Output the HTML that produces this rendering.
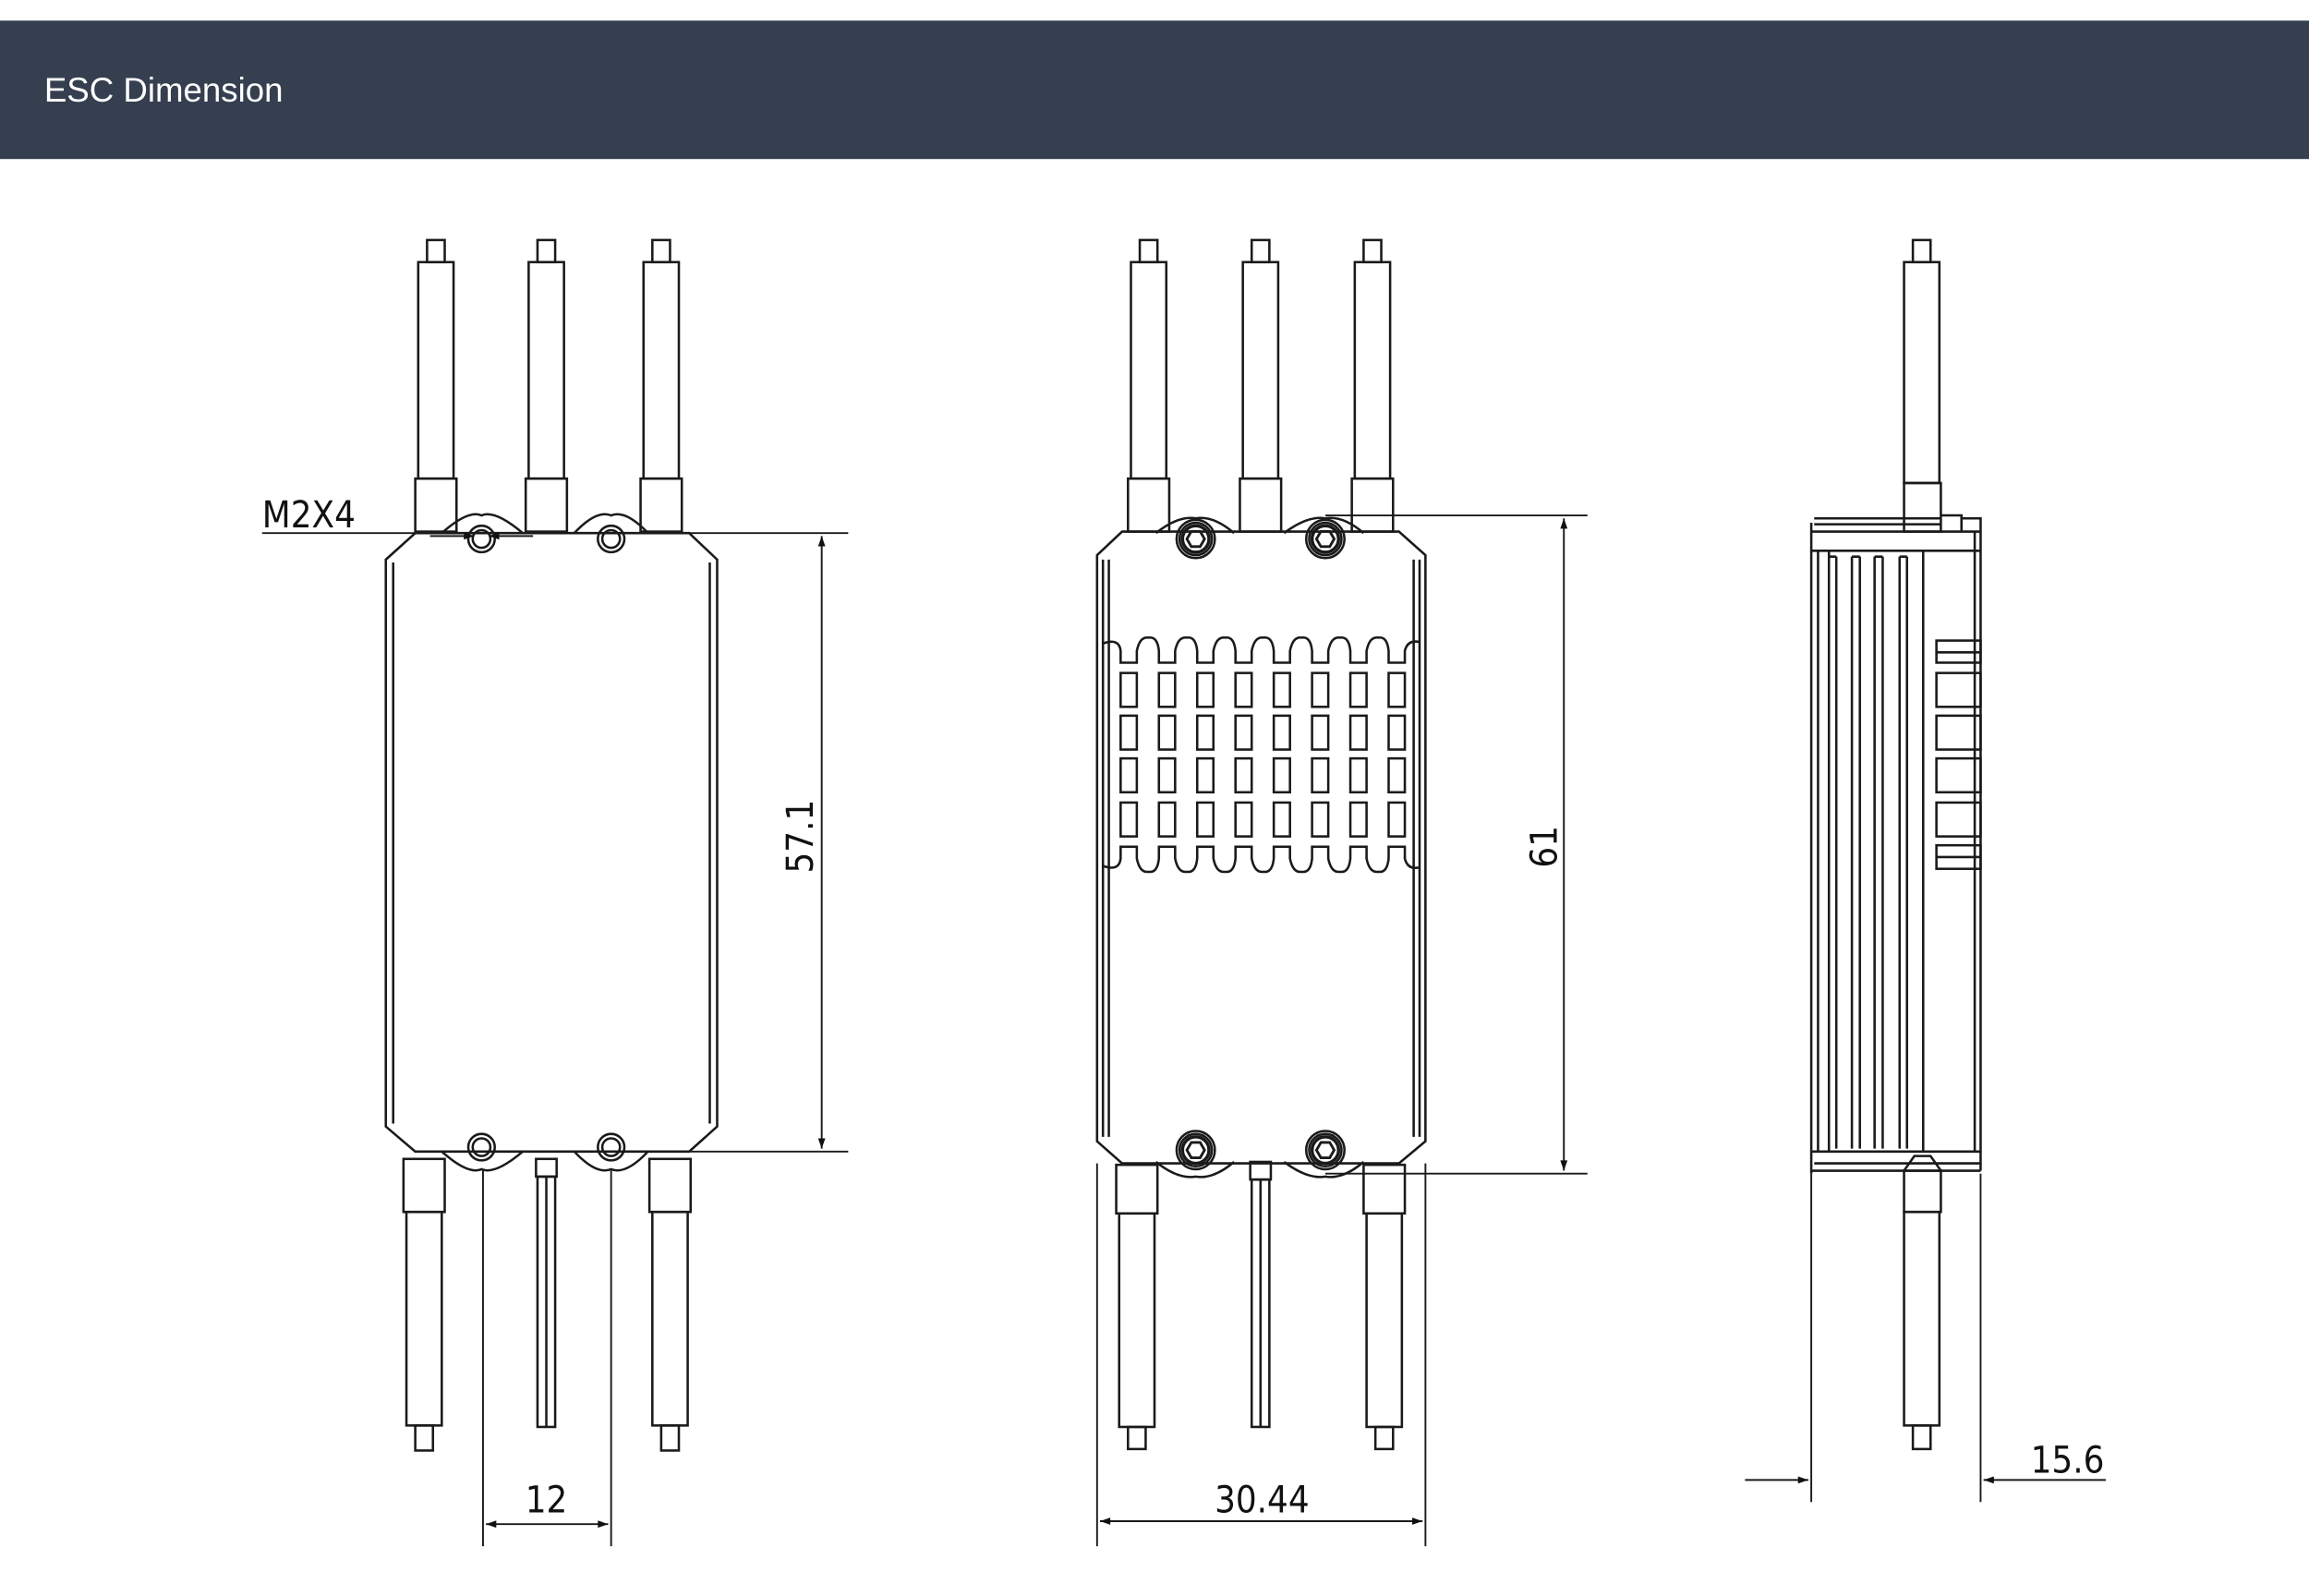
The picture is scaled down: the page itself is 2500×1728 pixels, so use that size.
<!DOCTYPE html>
<html><head><meta charset="utf-8"><style>
html,body{margin:0;padding:0;background:#fff;}
svg{display:block;}
</style></head><body>
<svg width="2500" height="1728" viewBox="0 0 1568 1083.8" xmlns="http://www.w3.org/2000/svg">
<defs>
<marker id="a" viewBox="0 0 10 10" refX="10" refY="5" markerWidth="20" markerHeight="7" markerUnits="userSpaceOnUse" orient="auto-start-reverse"><path d="M0,1.5 L10,5 L0,8.5 z" fill="#111"/></marker>
<g id="wire">
<rect x="-6" y="0" width="12" height="15" fill="none"/>
<rect x="-12" y="15" width="24" height="147" fill="none"/>
<rect x="-14" y="162" width="28" height="36" fill="none"/>
</g>
<g id="vent"><rect x="0" y="0" width="11" height="23" fill="none"/></g>
<g id="hex">
<circle r="13" fill="none"/><circle r="11" fill="none"/><circle r="9" fill="none" stroke-width="2.2"/>
<polygon points="6,0 3,5.2 -3,5.2 -6,0 -3,-5.2 3,-5.2" fill="none" stroke-width="1.8"/>
</g>
</defs>
<rect x="0" y="14" width="1568" height="94" fill="#353f4f"/>
<text x="30" y="69" font-family="'Liberation Sans',sans-serif" font-size="23" fill="#fff">ESC Dimension</text>

<g stroke="#1a1a1a" stroke-width="1.6" fill="none">
<!-- LEFT VIEW -->
<use href="#wire" x="296" y="163"/><use href="#wire" x="371" y="163"/><use href="#wire" x="449" y="163"/>
<path d="M282,362 L468,362 L487,380 L487,765 L468,782 L282,782 L262,765 L262,380 Z"/>
<path d="M267,382 L267,763 M482,382 L482,763"/>
<path d="M300,362 Q318,346 327,350 Q336,346 355,362 M390,362 Q405,346 415,350 Q425,346 440,362"/>
<circle cx="327" cy="366" r="6"/><circle cx="327" cy="366" r="9"/>
<circle cx="415" cy="366" r="6"/><circle cx="415" cy="366" r="9"/>
<path d="M300,782 Q318,798 327,794 Q336,798 355,782 M390,782 Q405,798 415,794 Q425,798 440,782"/>
<circle cx="327" cy="779" r="6"/><circle cx="327" cy="779" r="9"/>
<circle cx="415" cy="779" r="6"/><circle cx="415" cy="779" r="9"/>
<rect x="274" y="787" width="28" height="36"/><rect x="276" y="823" width="24" height="145"/><rect x="282" y="968" width="12" height="17"/>
<rect x="441" y="787" width="28" height="36"/><rect x="443" y="823" width="24" height="145"/><rect x="449" y="968" width="12" height="17"/>
<rect x="364" y="787" width="14" height="12"/><rect x="365" y="799" width="12" height="170"/><path d="M371,799 L371,969"/>
<path d="M178,362 L300,362" stroke-width="1.2"/>
<path d="M292,364 L322,364" marker-end="url(#a)" stroke-width="1.2"/>
<path d="M362,364 L332,364" marker-end="url(#a)" stroke-width="1.2"/>
<path d="M468,362 L576,362 M468,782 L576,782" stroke-width="1.2"/>
<path d="M558,364 L558,780" marker-start="url(#a)" marker-end="url(#a)" stroke-width="1.2"/>
<path d="M328,795 L328,1050 M415,795 L415,1050" stroke-width="1.2"/>
<path d="M330,1035 L413,1035" marker-start="url(#a)" marker-end="url(#a)" stroke-width="1.2"/>

<!-- MIDDLE VIEW -->
<use href="#wire" x="780" y="163"/><use href="#wire" x="856" y="163"/><use href="#wire" x="932" y="163"/>
<path d="M762,361 L950,361 L968,377 L968,775 L950,790 L762,790 L745,775 L745,377 Z"/>
<path d="M749,380 L749,772 M753,380 L753,772 M960,380 L960,772 M964,380 L964,772"/>
<path d="M785,362 Q800,350 812,352 Q824,350 838,362 M872,362 Q888,350 900,352 Q912,350 926,362"/>
<path d="M785,789 Q800,801 812,799 Q824,801 838,789 M872,789 Q888,801 900,799 Q912,801 926,789"/>
<use href="#hex" x="812" y="366"/><use href="#hex" x="900" y="366"/>
<use href="#hex" x="812" y="781"/><use href="#hex" x="900" y="781"/>
<path d="M749,437 Q760,433 761,442 L761,450 L772,450 L772,442 Q774,432 780,433 Q786,432 787,442 L787,450 L798,450 L798,442 Q800,432 806,433 Q812,432 813,442 L813,450 L824,450 L824,442 Q826,432 832,433 Q838,432 839,442 L839,450 L850,450 L850,442 Q852,432 858,433 Q864,432 865,442 L865,450 L876,450 L876,442 Q878,432 884,433 Q890,432 891,442 L891,450 L902,450 L902,442 Q904,432 910,433 Q916,432 917,442 L917,450 L928,450 L928,442 Q930,432 936,433 Q942,432 943,442 L943,450 L954,450 L954,442 Q956,434 964,436"/>
<path d="M749,588 Q760,592 761,583 L761,575 L772,575 L772,583 Q774,593 780,592 Q786,593 787,583 L787,575 L798,575 L798,583 Q800,593 806,592 Q812,593 813,583 L813,575 L824,575 L824,583 Q826,593 832,592 Q838,593 839,583 L839,575 L850,575 L850,583 Q852,593 858,592 Q864,593 865,583 L865,575 L876,575 L876,583 Q878,593 884,592 Q890,593 891,583 L891,575 L902,575 L902,583 Q904,593 910,592 Q916,593 917,583 L917,575 L928,575 L928,583 Q930,593 936,592 Q942,593 943,583 L943,575 L954,575 L954,583 Q956,591 964,589"/>
<g id="vrow">
<use href="#vent" x="761" y="457"/><use href="#vent" x="787" y="457"/><use href="#vent" x="813" y="457"/><use href="#vent" x="839" y="457"/>
<use href="#vent" x="865" y="457"/><use href="#vent" x="891" y="457"/><use href="#vent" x="917" y="457"/><use href="#vent" x="943" y="457"/>
</g>
<use href="#vrow" y="29"/><use href="#vrow" y="58"/><use href="#vrow" y="88"/>
<rect x="758" y="791" width="28" height="33"/><rect x="760" y="824" width="24" height="145"/><rect x="766" y="969" width="12" height="15"/>
<rect x="926" y="791" width="28" height="33"/><rect x="928" y="824" width="24" height="145"/><rect x="934" y="969" width="12" height="15"/>
<rect x="849" y="789" width="14" height="12"/><rect x="850" y="801" width="12" height="168"/><path d="M856,801 L856,969"/>
<path d="M900,350 L1078,350 M900,797 L1078,797" stroke-width="1.2"/>
<path d="M1062,352 L1062,795" marker-start="url(#a)" marker-end="url(#a)" stroke-width="1.2"/>
<path d="M745,790 L745,1050 M968,790 L968,1050" stroke-width="1.2"/>
<path d="M747,1033 L966,1033" marker-start="url(#a)" marker-end="url(#a)" stroke-width="1.2"/>

<!-- RIGHT VIEW -->
<rect x="1299" y="163" width="12" height="15"/>
<rect x="1293" y="178" width="24" height="150"/>
<rect x="1293" y="328" width="25" height="33"/>
<path d="M1232,352 L1318,352 M1232,356 L1318,356 M1318,350 L1332,350 L1332,361 M1332,352 L1345,352 L1345,795"/>
<path d="M1230,361 L1345,361 M1230,374 L1345,374 M1230,355 L1230,797"/>
<path d="M1234.6,374 L1234.6,782 M1242,374 L1242,782 M1247,378 L1247,780 M1257.6,378 L1257.6,780 M1263,378 L1263,780 M1273,378 L1273,780 M1278.5,378 L1278.5,780 M1290,378 L1290,780 M1295,378 L1295,780 M1306,374 L1306,782 M1341,361 L1341,782"/>
<path d="M1242,378 L1247,378 M1257.6,378 L1263,378 M1273,378 L1278.5,378 M1290,378 L1295,378"/>
<rect x="1315" y="435" width="30" height="15"/><path d="M1315,443 L1345,443"/>
<rect x="1315" y="457" width="30" height="23"/>
<rect x="1315" y="486" width="30" height="23"/>
<rect x="1315" y="515" width="30" height="23"/>
<rect x="1315" y="545" width="30" height="23"/>
<rect x="1315" y="574" width="30" height="16"/><path d="M1315,582 L1345,582"/>
<path d="M1230,782 L1345,782 M1230,795 L1345,795 M1232,790 L1345,790"/>
<path d="M1293,795 L1300,785 L1311,785 L1318,795"/>
<rect x="1293" y="795" width="25" height="28"/>
<rect x="1293" y="823" width="24" height="145"/>
<rect x="1299" y="968" width="12" height="16"/>
<path d="M1230,797 L1230,1020 M1345,797 L1345,1020" stroke-width="1.2"/>
<path d="M1185,1005 L1228,1005" marker-end="url(#a)" stroke-width="1.2"/>
<path d="M1430,1005 L1347,1005" marker-end="url(#a)" stroke-width="1.2"/>
</g>

<g font-family="'DejaVu Sans Condensed','Liberation Sans',sans-serif" font-size="25" fill="#111">
<text x="178" y="358">M2X4</text>
<text x="371" y="1027" text-anchor="middle">12</text>
<text x="857" y="1027" text-anchor="middle">30.44</text>
<text x="1404" y="1000" text-anchor="middle">15.6</text>
<text transform="translate(552,568) rotate(-90)" text-anchor="middle">57.1</text>
<text transform="translate(1057,575) rotate(-90)" text-anchor="middle">61</text>
</g>
</svg>
</body></html>
